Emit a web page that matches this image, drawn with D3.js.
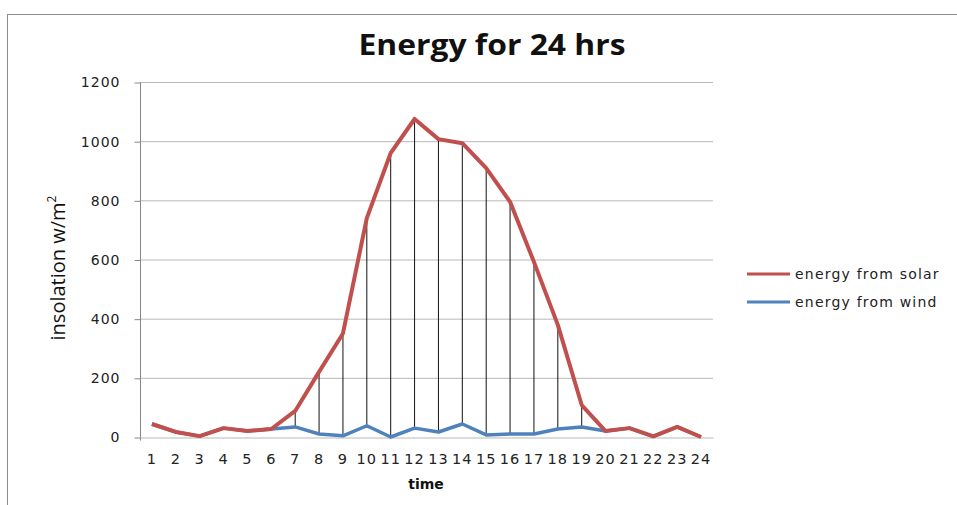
<!DOCTYPE html>
<html>
<head>
<meta charset="utf-8">
<script src="https://cdn.jsdelivr.net/npm/d3@7"></script>
<style>
  body { margin: 0; background: #fff; }
  svg { display: block; }
</style>
</head>
<body>
<div id="chart"></div>
<script>
// hours on the x axis
var hours = d3.range(1, 25).map(String);
// w/m2
var solar = [44, 17, 3, 30, 20, 27, 88, 220, 350, 740, 960, 1075,
             1007, 993, 909, 795, 592, 379, 108, 20, 30, 2, 34, 0];
var wind = [44, 17, 3, 30, 20, 27, 34, 10, 4, 38, 0, 30,
            17, 44, 7, 10, 10, 27, 34, 20, 30, 2, 34, 0];
var yTicks = [0, 200, 400, 600, 800, 1000, 1200];
var seriesNames = ["energy from solar", "energy from wind"];
var seriesColors = ["#c0504d", "#4f81bd"];

var width = 957, height = 505;
var plotLeft = 140, plotRight = 713, plotTop = 82, plotBottom = 437;

var svg = d3.select("#chart")
        .append("svg")
        .attr("width", width)
        .attr("height", height);

// outer chart border
svg.append("rect")
    .attr("x", 7.5).attr("y", 14.5)
    .attr("width", 960).attr("height", 500)
    .attr("fill", "none")
    .attr("stroke", "#8c8c8c");

var x = d3.scaleBand().domain(hours).range([plotLeft, plotRight]);
var y = d3.scaleLinear().domain([0, 1200]).range([plotBottom, plotTop]);
var cx = function (i) { return x(hours[i]) + x.bandwidth() / 2; };

// gridlines
svg.append("g")
    .selectAll("line")
    .data(yTicks.slice(1))
    .join("line")
    .attr("x1", plotLeft).attr("x2", plotRight)
    .attr("y1", function (d) { return y(d) + 0.5; })
    .attr("y2", function (d) { return y(d) + 0.5; })
    .attr("stroke", "#b8b8b8");

// y axis
var yAxis = svg.append("g")
    .attr("transform", "translate(" + (plotLeft + 0.5) + ",0.5)")
    .call(d3.axisLeft(y).tickValues(yTicks).tickFormat(d3.format("d")).tickSize(6).tickPadding(14));
yAxis.select(".domain").attr("stroke", "#868686").attr("d", "M0," + y(1200) + "V" + (y(0) + 3));
yAxis.selectAll(".tick line").attr("stroke", "#868686");
yAxis.selectAll("text")
    .attr("font-family", "DejaVu Sans")
    .attr("font-size", 14)
    .attr("letter-spacing", 1)
    .attr("fill", "#222");

// x axis
var xAxis = svg.append("g")
    .attr("transform", "translate(0," + (plotBottom + 0.5) + ")")
    .call(d3.axisBottom(x).tickSize(0).tickPadding(16));
xAxis.select(".domain").attr("stroke", "#b8b8b8");
xAxis.selectAll("text")
    .attr("font-family", "DejaVu Sans")
    .attr("font-size", 14.5)
    .attr("letter-spacing", 1)
    .attr("fill", "#222");

// high-low lines between the two series
svg.append("g")
    .selectAll("line")
    .data(hours)
    .join("line")
    .attr("x1", function (d, i) { return cx(i); })
    .attr("x2", function (d, i) { return cx(i); })
    .attr("y1", function (d, i) { return y(solar[i]); })
    .attr("y2", function (d, i) { return y(wind[i]); })
    .attr("stroke", "#111")
    .attr("stroke-width", 1);

var line = d3.line()
    .x(function (d, i) { return cx(i); })
    .y(function (d) { return y(d); });

[wind, solar].forEach(function (s, k) {
    svg.append("path")
        .datum(s)
        .attr("d", line)
        .attr("fill", "none")
        .attr("stroke", seriesColors[1 - k])
        .attr("stroke-width", k ? 4 : 3.5)
        .attr("stroke-linejoin", "round");
});

// title
svg.append("text")
    .attr("x", 492).attr("y", 55)
    .attr("text-anchor", "middle")
    .attr("font-family", "Open Sans")
    .attr("font-weight", "bold")
    .attr("font-size", 28)
    .attr("textLength", 267)
    .attr("lengthAdjust", "spacingAndGlyphs")
    .attr("fill", "#111")
    .text("Energy for 24 hrs");

// axis titles
svg.append("text")
    .attr("x", 426).attr("y", 489)
    .attr("text-anchor", "middle")
    .attr("font-family", "DejaVu Sans")
    .attr("font-weight", "bold")
    .attr("font-size", 14)
    .attr("fill", "#111")
    .text("time");

var yt = svg.append("text")
    .attr("transform", "translate(65,268) rotate(-90)")
    .attr("text-anchor", "middle")
    .attr("font-family", "Open Sans")
    .attr("font-size", 20)
    .attr("fill", "#111");
yt.append("tspan").text("insolation w/m");
yt.append("tspan").attr("font-size", 12).attr("dy", -9).text("2");

// legend
var legend = svg.append("g")
    .selectAll("g")
    .data(seriesNames)
    .join("g")
    .attr("transform", function (d, i) { return "translate(747," + (274 + i * 28) + ")"; });
legend.append("line")
    .attr("x1", 0).attr("x2", 43)
    .attr("stroke", function (d, i) { return seriesColors[i]; })
    .attr("stroke-width", 3);
legend.append("text")
    .attr("x", 48).attr("y", 5)
    .attr("font-family", "DejaVu Sans")
    .attr("font-size", 14)
    .attr("letter-spacing", 1.2)
    .attr("fill", "#222")
    .text(function (d) { return d; });
</script>
</body>
</html>
